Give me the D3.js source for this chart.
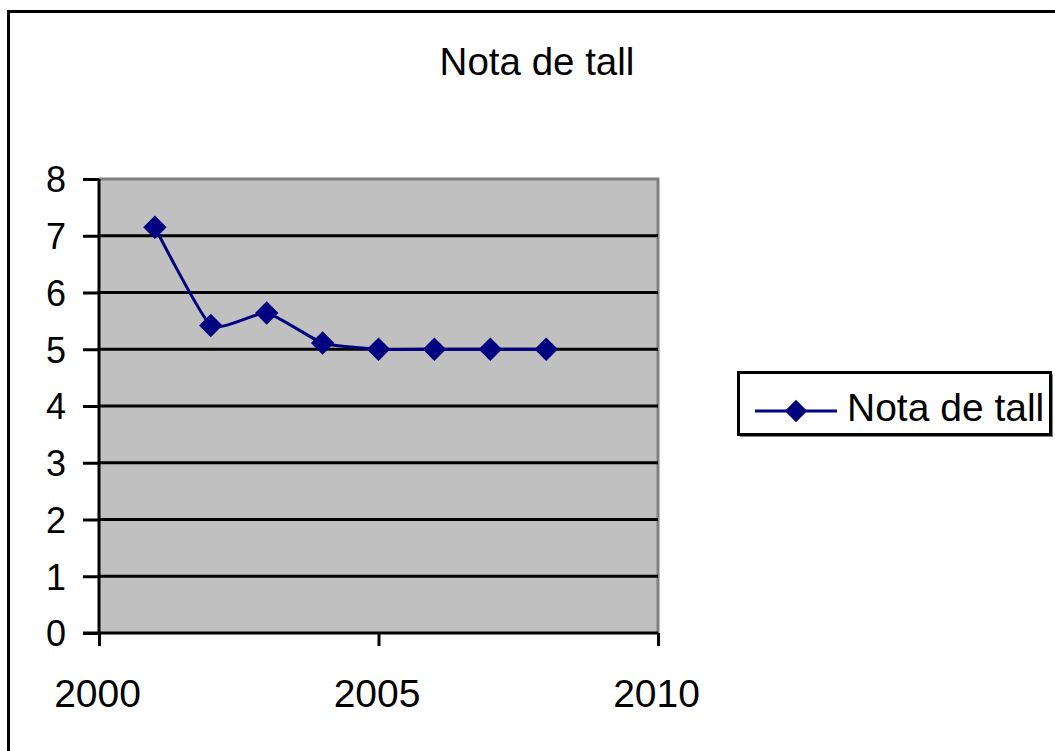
<!DOCTYPE html>
<html>
<head>
<meta charset="utf-8">
<script src="https://cdn.jsdelivr.net/npm/d3@7"></script>
<style>
  html, body { margin: 0; padding: 0; background: #fff; overflow: hidden; }
  text { font-family: Arial, "Liberation Sans", sans-serif; fill: #000; }
</style>
</head>
<body>
<div id="chart"></div>
<script>
// Chart data
const seriesName = 'Nota de tall';
const years = [2001, 2002, 2003, 2004, 2005, 2006, 2007, 2008];
const notes = [7.15, 5.42, 5.64, 5.11, 5.0, 5.0, 5.0, 5.0];
const xTicks = [2000, 2005, 2010];
const yTicks = [0, 1, 2, 3, 4, 5, 6, 7, 8];

const width = 1055, height = 751;
const plot = { left: 99, right: 658, top: 179, bottom: 633 };
const navy = '#000080';

const svg = d3.select('#chart')
  .append('svg')
  .attr('width', width)
  .attr('height', height);

// Outer chart frame (runs off the right and bottom edges)
svg.append('rect')
  .attr('x', 8.5).attr('y', 11.5)
  .attr('width', 1100).attr('height', 800)
  .attr('fill', '#fff')
  .attr('stroke', '#000')
  .attr('stroke-width', 3);

// Title
svg.append('text')
  .attr('x', 537).attr('y', 75)
  .attr('text-anchor', 'middle')
  .style('font-size', '38.5px')
  .text(seriesName);

// Scales
const x = d3.scaleLinear().domain([2000, 2010]).range([plot.left, plot.right]);
const y = d3.scaleLinear().domain([0, 8]).range([plot.bottom, plot.top]);

// Plot area
svg.append('rect')
  .attr('x', plot.left).attr('y', plot.top)
  .attr('width', plot.right - plot.left)
  .attr('height', plot.bottom - plot.top)
  .attr('fill', '#c0c0c0');

// Top and right border of the plot area
svg.append('path')
  .attr('d', `M${plot.left},${plot.top}H${plot.right}V${plot.bottom}`)
  .attr('fill', 'none')
  .attr('stroke', '#808080')
  .attr('stroke-width', 3);

// Horizontal gridlines
svg.append('g')
  .selectAll('line')
  .data(yTicks.filter(d => d > 0 && d < 8))
  .enter()
  .append('line')
  .attr('x1', plot.left).attr('x2', plot.right)
  .attr('y1', d => y(d)).attr('y2', d => y(d))
  .attr('stroke', '#000')
  .attr('stroke-width', 3);

// Y axis
const yAxis = d3.axisLeft(y)
  .tickValues(yTicks)
  .tickSize(16)
  .tickPadding(17)
  .tickFormat(d3.format('d'));

const gy = svg.append('g')
  .attr('transform', `translate(${plot.left}, 0)`)
  .call(yAxis);
gy.select('.domain').attr('stroke', '#000').attr('stroke-width', 3)
  .attr('d', `M0,${plot.top}V${plot.bottom}`);
gy.selectAll('.tick line').attr('stroke', '#000').attr('stroke-width', 3);
gy.selectAll('.tick text')
  .attr('font-family', null)
  .style('font-size', '36px')
  .attr('dy', '0.36em');

// X axis
const xAxis = d3.axisBottom(x)
  .tickValues(xTicks)
  .tickSize(13)
  .tickPadding(33)
  .tickFormat(d3.format('d'));

const gx = svg.append('g')
  .attr('transform', `translate(0, ${plot.bottom})`)
  .call(xAxis);
gx.select('.domain').attr('stroke', '#000').attr('stroke-width', 3)
  .attr('d', `M${plot.left - 16},0H${plot.right}`);
gx.selectAll('.tick line').attr('stroke', '#000').attr('stroke-width', 3);
gx.selectAll('.tick text')
  .attr('font-family', null)
  .attr('dx', -2)
  .style('font-size', '39px');

// Smoothed series line
const points = years.map((yr, i) => [yr, notes[i]]);
const line = d3.line()
  .x(d => x(d[0]))
  .y(d => y(d[1]))
  .curve(d3.curveCardinal.tension(0.5));

svg.append('path')
  .datum(points)
  .attr('d', line)
  .attr('fill', 'none')
  .attr('stroke', navy)
  .attr('stroke-width', 3);

// Diamond markers
const diamond = d3.symbol().type(d3.symbolDiamond2).size(350);

svg.append('g')
  .selectAll('path')
  .data(points)
  .enter()
  .append('path')
  .attr('d', diamond)
  .attr('transform', d => `translate(${x(d[0])}, ${y(d[1])})`)
  .attr('fill', navy);

// Legend
const legend = svg.append('g').attr('class', 'legend');

legend.append('rect')
  .attr('x', 740).attr('y', 374)
  .attr('width', 313).attr('height', 63)
  .attr('fill', '#808080');

legend.append('rect')
  .attr('x', 738.5).attr('y', 372.5)
  .attr('width', 312).attr('height', 62)
  .attr('fill', '#fff')
  .attr('stroke', '#000')
  .attr('stroke-width', 3);

legend.append('line')
  .attr('x1', 755).attr('x2', 837)
  .attr('y1', 411).attr('y2', 411)
  .attr('stroke', navy)
  .attr('stroke-width', 3);

legend.append('path')
  .attr('d', d3.symbol().type(d3.symbolDiamond2).size(320))
  .attr('transform', 'translate(796, 411)')
  .attr('fill', navy);

legend.append('text')
  .attr('x', 847).attr('y', 421)
  .style('font-size', '39px')
  .text(seriesName);
</script>
</body>
</html>
